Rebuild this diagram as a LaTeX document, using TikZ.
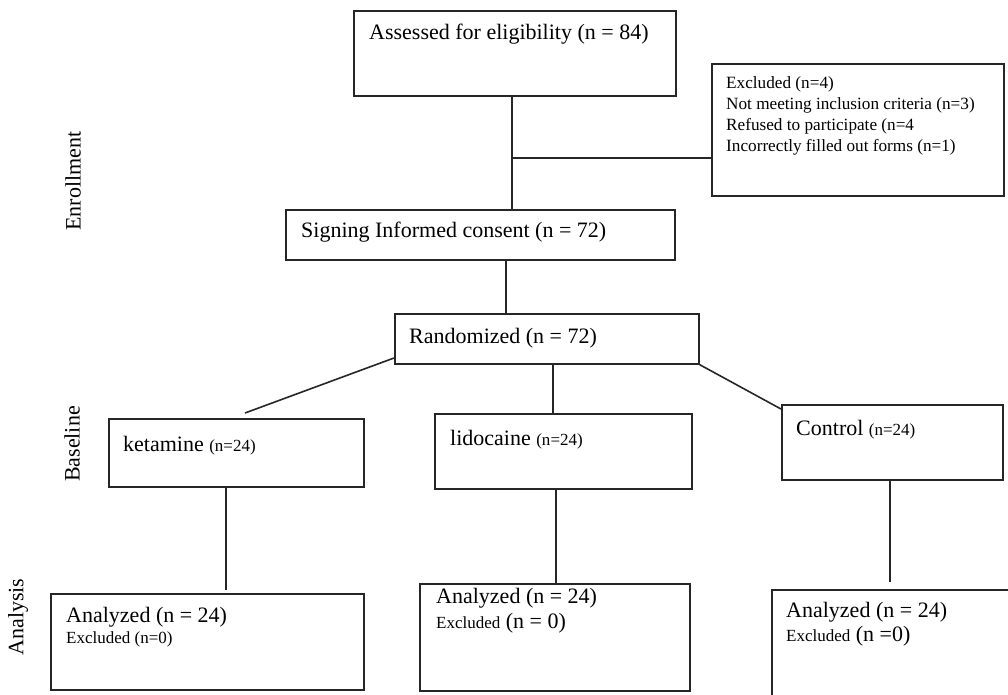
\documentclass[tikz,border=0pt]{standalone}
\usepackage{fontspec}
\setmainfont{Liberation Serif}
\usetikzlibrary{positioning}
\newcommand{\bigtxt}{\fontsize{22}{26}\selectfont}
\newcommand{\smalltxt}{\fontsize{17}{20}\selectfont}
\newcommand{\listtxt}{\fontsize{17.2}{21}\selectfont}

\begin{document}
\begin{tikzpicture}[x=1pt,y=-1pt,
	box/.style={draw=black!85,line width=1.6pt,anchor=north west,inner sep=0pt},
	link/.style={draw=black!85,line width=1.6pt},
	txt/.style={anchor=base west,inner sep=0pt,font=\bigtxt},
	side/.style={rotate=90,inner sep=0pt,font=\bigtxt},
	]
	\useasboundingbox (0,0) rectangle (1008,694);
	\clip (0,0) rectangle (1008,694);
	%Boxes
	\node[box,minimum width=322pt,minimum height=85pt] (assess) at (353,10) {};
	\node[box,minimum width=292pt,minimum height=132pt] (excl) at (711,63) {};
	\node[box,minimum width=389pt,minimum height=50pt] (sign) at (285,209) {};
	\node[box,minimum width=304pt,minimum height=50pt] (rand) at (394,313) {};
	\node[box,minimum width=255pt,minimum height=68pt] (ket) at (108,418) {};
	\node[box,minimum width=257pt,minimum height=75pt] (lido) at (434,413) {};
	\node[box,minimum width=221pt,minimum height=75pt] (ctrl) at (781,404) {};
	\node[box,minimum width=313pt,minimum height=96pt] (anaket) at (50,593) {};
	\node[box,minimum width=270pt,minimum height=107pt] (analido) at (419,583) {};
	\node[box,minimum width=260pt,minimum height=120pt] (anactrl) at (771,589) {};
	%Texts
	\node[txt] (assessT) at (369,39) {Assessed for eligibility (n = 84)};
	\node[txt,font=\listtxt,align=left,anchor=north west] (exclT) at (726,76)
		{Excluded (n=4)\\Not meeting inclusion criteria (n=3)\\Refused to participate (n=4\\Incorrectly filled out forms (n=1)};
	\node[txt] (signT) at (301,237) {Signing Informed consent (n = 72)};
	\node[txt] (randT) at (409,343) {Randomized (n = 72)};
	\node[txt] (ketT) at (123,451) {ketamine {\smalltxt(n=24)}};
	\node[txt] (lidoT) at (450,445) {lidocaine {\smalltxt(n=24)}};
	\node[txt] (ctrlT) at (796,435) {Control {\smalltxt(n=24)}};
	\node[txt] (anaketT) at (66,622) {Analyzed (n = 24)};
	\node[txt,font=\smalltxt] (anaketE) at (66,643) {Excluded (n=0)};
	\node[txt] (analidoT) at (436,603) {Analyzed (n = 24)};
	\node[txt] (analidoE) at (436,628) {{\smalltxt Excluded} (n = 0)};
	\node[txt] (anactrlT) at (786,617) {Analyzed (n = 24)};
	\node[txt] (anactrlE) at (786,641) {{\smalltxt Excluded} (n =0)};
	%Stage labels
	\node[side] (enroll) at (73,181) {Enrollment};
	\node[side] (baseline) at (72,444) {Baseline};
	\node[side] (analysis) at (18,617) {Analysis};
	%Connectors
	\coordinate (split) at (512,158);
	\draw[link] (assess.south -| split) -- (sign.north -| split);
	\draw[link] (split) -- (split -| excl.west);
	\coordinate (mid) at (506,285);
	\draw[link] (sign.south -| mid) -- (rand.north -| mid);
	\coordinate (randL) at (394,358);
	\coordinate (toket) at (245,413);
	\draw[link] (randL) -- (toket);
	\coordinate (midlido) at (553,390);
	\draw[link] (rand.south -| midlido) -- (lido.north -| midlido);
	\coordinate (toctrl) at (781,409);
	\draw[link] (rand.south east) -- (toctrl);
	\coordinate (ketdown) at (226,590);
	\draw[link] (ket.south -| ketdown) -- (ketdown);
	\coordinate (lidodown) at (556,530);
	\draw[link] (lido.south -| lidodown) -- (analido.north -| lidodown);
	\coordinate (ctrldown) at (890,582);
	\draw[link] (ctrl.south -| ctrldown) -- (ctrldown);
\end{tikzpicture}
\end{document}
